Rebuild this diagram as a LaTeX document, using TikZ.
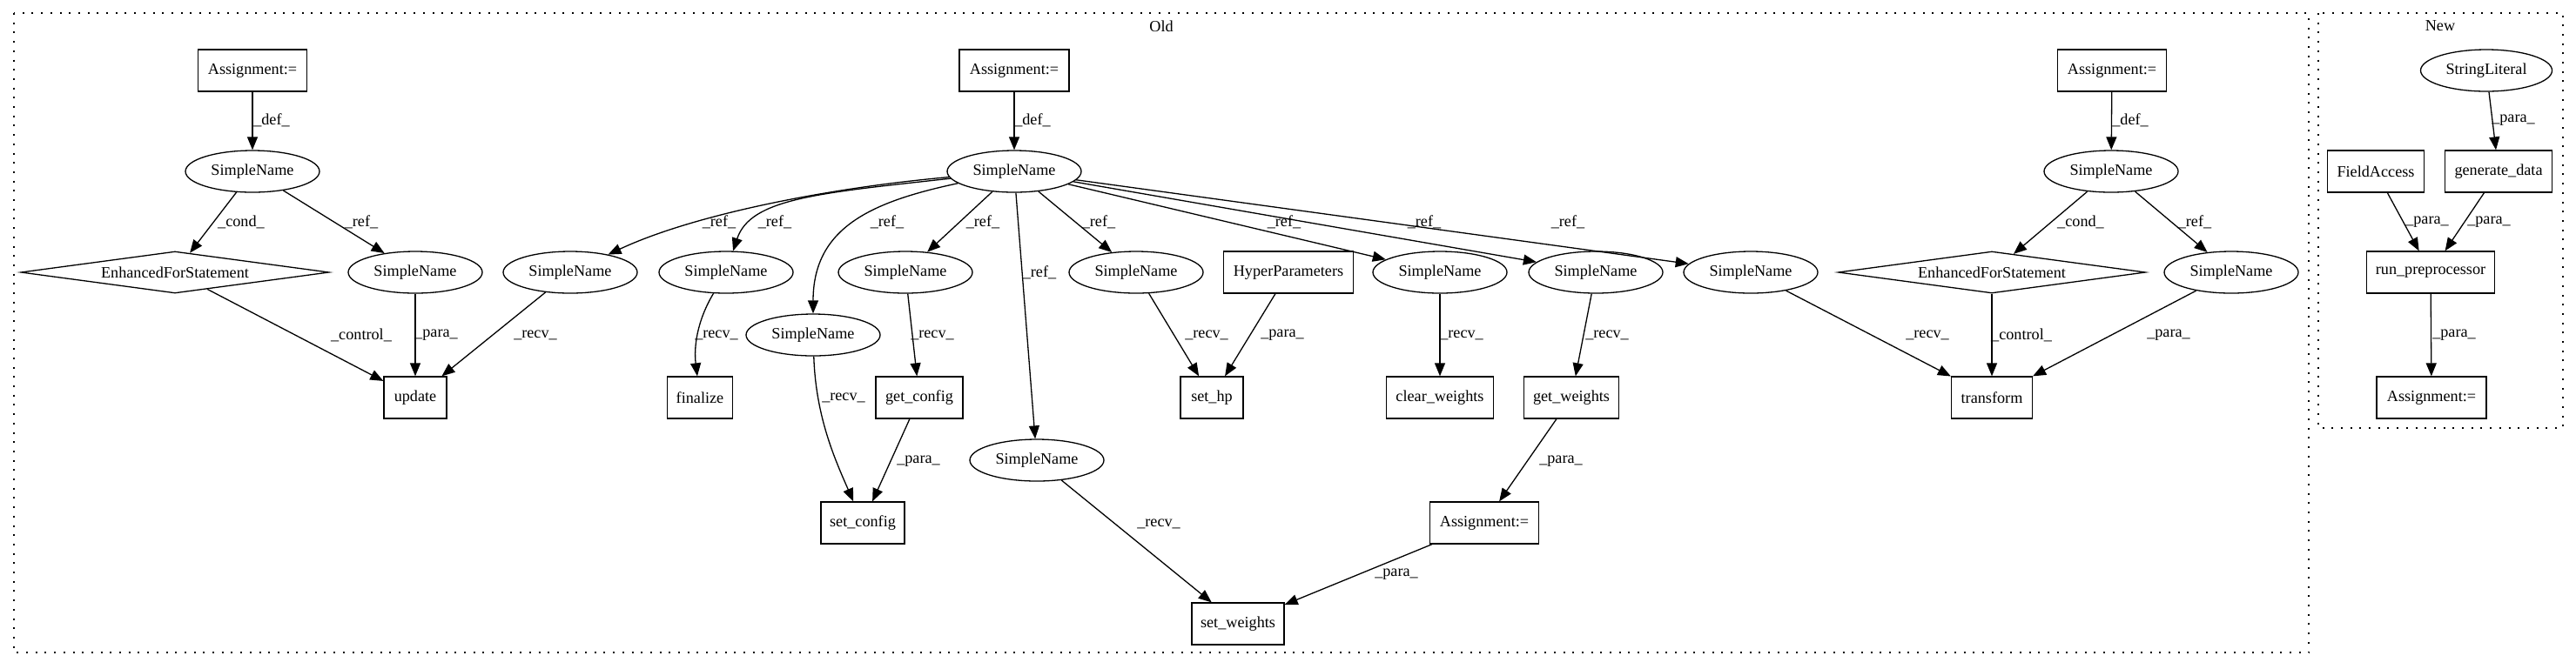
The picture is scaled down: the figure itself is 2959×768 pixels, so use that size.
\documentclass[tikz,border=0pt]{standalone}
\usepackage{fontspec}
\setmainfont{Liberation Serif}
\usetikzlibrary{shapes.geometric,arrows.meta}
\newcommand\gvfont{\fontsize{9.1}{11}\selectfont}
\begin{document}
\begin{tikzpicture}[x=0.5pt,y=-0.5pt,
  every node/.style={font=\gvfont},
  box/.style={draw,rectangle,minimum height=24pt,inner sep=0pt,line width=0.65pt},
  ell/.style={draw,ellipse,minimum width=77pt,minimum height=24pt,inner sep=0pt,line width=0.65pt},
  dia/.style={draw,diamond,aspect=7,minimum height=24pt,inner sep=0pt,line width=0.65pt},
  edge/.style={-{Triangle[length=7.5pt,width=6pt]},line width=0.65pt},
  lab/.style={inner sep=0pt},
  clus/.style={line width=1pt,dash pattern=on 1pt off 4.35pt}]
\useasboundingbox (0,0) rectangle (2959,768);
% clusters
\draw[clus] (16,15) rectangle (2652,750);
\draw[clus] (2663,15) rectangle (2944,492);
\node[lab] (oldl) at (1334,30) {Old};
\node[lab] (newl) at (2803,30) {New};
% left group
\node[box,minimum width=62.5pt] (a1) at (290,81) {Assignment:=};
\node[ell] (s1) at (290,197) {SimpleName};
\node[dia,minimum width=177pt] (efs1) at (201,313) {EnhancedForStatement};
\node[ell] (s2) at (477,313) {SimpleName};
\node[box,minimum width=36pt] (upd) at (477,457) {update};
% middle group
\node[box,minimum width=63pt] (a2) at (1165,81) {Assignment:=};
\node[ell] (sm) at (1165,197) {SimpleName};
\node[ell] (r1) at (655,313) {SimpleName};
\node[ell] (r2) at (834,313) {SimpleName};
\node[ell] (r3) at (934,385) {SimpleName};
\node[ell] (r4) at (1040,313) {SimpleName};
\node[ell] (r5) at (1191,529) {SimpleName};
\node[ell] (r6) at (1305,313) {SimpleName};
\node[box,minimum width=74.5pt] (hp) at (1480,313) {HyperParameters};
\node[ell] (r7) at (1654,313) {SimpleName};
\node[ell] (r8) at (1833,313) {SimpleName};
\node[ell] (r9) at (2011,313) {SimpleName};
\node[box,minimum width=37.5pt] (fin) at (804,457) {finalize};
\node[box,minimum width=50pt] (getc) at (1056,457) {get\_config};
\node[box,minimum width=48pt] (setc) at (991,601) {set\_config};
\node[box,minimum width=36pt] (sethp) at (1392,457) {set\_hp};
\node[box,minimum width=61.5pt] (clw) at (1654,457) {clear\_weights};
\node[box,minimum width=54.5pt] (gw) at (1805,457) {get\_weights};
\node[box,minimum width=62.5pt] (a3) at (1705,601) {Assignment:=};
\node[box,minimum width=53pt] (sw) at (1422,717) {set\_weights};
% right group
\node[box,minimum width=62.5pt] (a4) at (2426,81) {Assignment:=};
\node[ell] (s4) at (2425,197) {SimpleName};
\node[dia,minimum width=176.5pt] (efs2) at (2288,313) {EnhancedForStatement};
\node[ell] (s5) at (2563,313) {SimpleName};
\node[box,minimum width=46.5pt] (tr) at (2288,457) {transform};
% new cluster
\node[ell,minimum width=75.5pt] (sl) at (2856,81) {StringLiteral};
\node[box,minimum width=55.5pt] (fa) at (2729,197) {FieldAccess};
\node[box,minimum width=61.5pt] (gd) at (2870,197) {generate\_data};
\node[box,minimum width=73.5pt] (rp) at (2792,313) {run\_preprocessor};
\node[box,minimum width=63pt] (a5) at (2793,457) {Assignment:=};
% edges left
\draw[edge] (a1) -- (s1);
\draw[edge] (s1) -- (efs1);
\draw[edge] (s1) -- (s2);
\draw[edge] (efs1) -- (upd);
\draw[edge] (s2) -- (upd);
\draw[edge] (r1) -- (upd);
% edges middle
\draw[edge] (a2) -- (sm);
\draw[edge] (sm) .. controls (960,215) and (800,245) .. (r1);
\draw[edge] (sm) .. controls (940,222) and (862,228) .. (r2);
\draw[edge] (sm) .. controls (1000,232) and (934,262) .. (r3);
\draw[edge] (sm) -- (r4);
\draw[edge] (sm) -- (r5);
\draw[edge] (sm) -- (r6);
\draw[edge] (sm) -- (r7);
\draw[edge] (sm) -- (r8);
\draw[edge] (sm) -- (r9);
\draw[edge] (r2) .. controls (800,370) and (797,400) .. (fin);
\draw[edge] (r3) .. controls (937,480) and (960,530) .. (setc);
\draw[edge] (r4) -- (getc);
\draw[edge] (getc) -- (setc);
\draw[edge] (r5) -- (sw);
\draw[edge] (r6) -- (sethp);
\draw[edge] (hp) -- (sethp);
\draw[edge] (r7) -- (clw);
\draw[edge] (r8) -- (gw);
\draw[edge] (gw) -- (a3);
\draw[edge] (a3) -- (sw);
\draw[edge] (r9) -- (tr);
% edges right
\draw[edge] (a4) -- (s4);
\draw[edge] (s4) -- (efs2);
\draw[edge] (s4) -- (s5);
\draw[edge] (efs2) -- (tr);
\draw[edge] (s5) -- (tr);
% edges new
\draw[edge] (sl) -- (gd);
\draw[edge] (fa) -- (rp);
\draw[edge] (gd) -- (rp);
\draw[edge] (rp) -- (a5);
% labels
\node[lab] (l1) at (312,138) {\_def\_};
\node[lab] (l2) at (277,255) {\_cond\_};
\node[lab] (l3) at (415,255) {\_ref\_};
\node[lab] (l4) at (415,385) {\_control\_};
\node[lab] (l5) at (501,385) {\_para\_};
\node[lab] (l6) at (615,385) {\_recv\_};
\node[lab] (l7) at (1186,138) {\_def\_};
\node[lab] (l8) at (826,255) {\_ref\_};
\node[lab] (l9) at (890,255) {\_ref\_};
\node[lab] (l10) at (1019,255) {\_ref\_};
\node[lab] (l11) at (1129,255) {\_ref\_};
\node[lab] (l12) at (1262,255) {\_ref\_};
\node[lab] (l13) at (1194,313) {\_ref\_};
\node[lab] (l14) at (1475,255) {\_ref\_};
\node[lab] (l15) at (1636,255) {\_ref\_};
\node[lab] (l16) at (1801,255) {\_ref\_};
\node[lab] (l17) at (823,385) {\_recv\_};
\node[lab] (l18) at (969,457) {\_recv\_};
\node[lab] (l19) at (1071,385) {\_recv\_};
\node[lab] (l20) at (1055,530) {\_para\_};
\node[lab] (l21) at (1386,385) {\_recv\_};
\node[lab] (l22) at (1473,385) {\_para\_};
\node[lab] (l23) at (1679,385) {\_recv\_};
\node[lab] (l24) at (1846,385) {\_recv\_};
\node[lab] (l25) at (1793,530) {\_para\_};
\node[lab] (l26) at (1331,602) {\_recv\_};
\node[lab] (l27) at (1604,660) {\_para\_};
\node[lab] (l28) at (2447,138) {\_def\_};
\node[lab] (l29) at (2390,255) {\_cond\_};
\node[lab] (l30) at (2521,255) {\_ref\_};
\node[lab] (l31) at (2214,385) {\_recv\_};
\node[lab] (l32) at (2322,385) {\_control\_};
\node[lab] (l33) at (2491,385) {\_para\_};
\node[lab] (l34) at (2887,138) {\_para\_};
\node[lab] (l35) at (2788,255) {\_para\_};
\node[lab] (l36) at (2859,255) {\_para\_};
\node[lab] (l37) at (2819,385) {\_para\_};
\end{tikzpicture}
\end{document}
